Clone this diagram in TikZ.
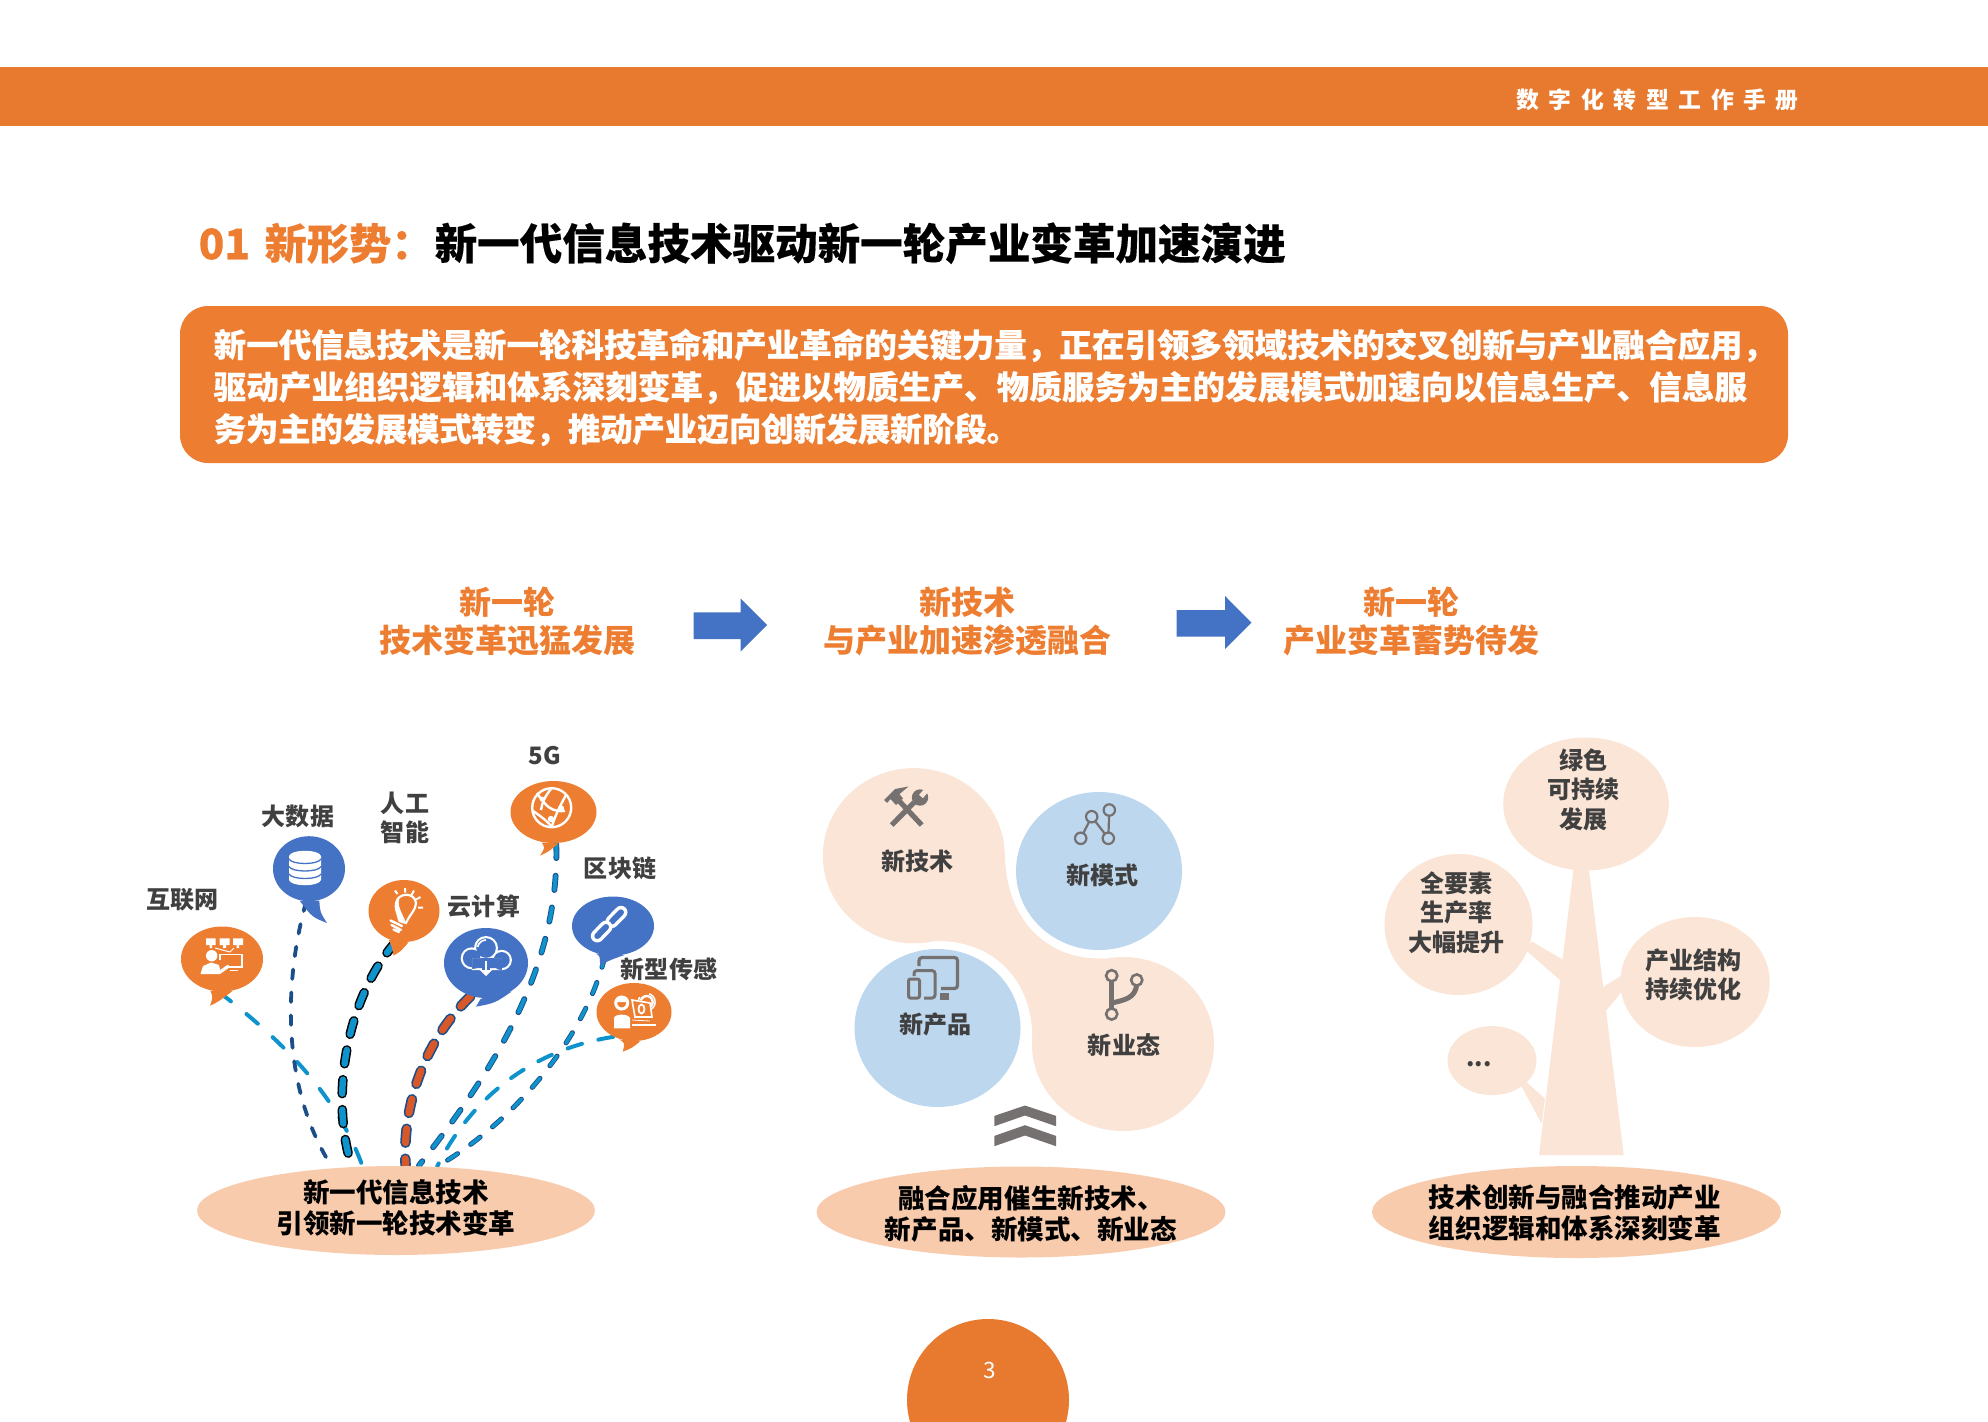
\documentclass[tikz,border=0pt]{standalone}
\usepackage{fontspec}
\setmainfont{Noto Sans CJK SC}
\usetikzlibrary{shapes.geometric,backgrounds}
\newcommand{\unit}{0.01cm}
\newcommand{\wcomma}{\char"FF0C\relax}
\newcommand{\wcolon}{\char"FF1A\relax}
\definecolor{barorange}{HTML}{E87A2F}
\definecolor{mainorange}{HTML}{ED7D31}
\definecolor{mainblue}{HTML}{4472C4}
\definecolor{softpeach}{HTML}{FBE5D6}
\definecolor{softblue}{HTML}{BDD7EE}
\definecolor{basepeach}{HTML}{F8CBAD}
\definecolor{darktext}{HTML}{404040}
\definecolor{icongray}{HTML}{767171}
\definecolor{linkcyan}{HTML}{0E93CC}
\definecolor{linknavy}{HTML}{1C4E8A}
\definecolor{linkred}{HTML}{D9582A}
\tikzset{
  bubble/.style n args={3}{ellipse,fill=#1,inner sep=0pt,minimum width=#2*\unit,minimum height=#3*\unit},
  blob/.style n args={3}{ellipse,fill=#1,inner sep=0pt,minimum width=#2*\unit,minimum height=#3*\unit},
  basetext/.style={inner sep=0pt,align=center,text=black,font=\fontsize{7.55}{8.8}\selectfont\bfseries},
  smalltext/.style={inner sep=0pt,align=center,text=darktext,font=\fontsize{6.83}{8.33}\selectfont\bfseries},
  headtext/.style={inner sep=0pt,align=center,text=mainorange,font=\fontsize{9.1}{10.8}\selectfont\bfseries},
  flatlink/.style n args={4}{draw=#1,line width=#2*\unit,line cap=round,dash pattern=on #3*\unit off #4*\unit},
  duallink/.style n args={5}{line cap=round,dash pattern=on #4*\unit off #5*\unit,preaction={draw=#1,line width=#3*\unit,line cap=round,dash pattern=on #4*\unit off #5*\unit},draw=#2,line width=0.68*#3*\unit}
}
\begin{document}
\begin{tikzpicture}[x=\unit,y=-\unit]
\useasboundingbox (0,0) rectangle (1988,1421);

\fill[barorange] (0,67) rectangle (1988,125.5);
\node[inner sep=0pt,anchor=east,text=white,font=\fontsize{6.5}{8}\selectfont\bfseries\addfontfeature{LetterSpace=42}] (runhead) at (1799.5,100) {数字化转型工作手册};

\node[inner sep=0pt,anchor=west,text=mainorange,font=\fontsize{12}{14}\selectfont\bfseries\addfontfeature{FakeBold=0.3}] (secnum) at (198,243.3) {01\hspace{1.4pt} 新形势\wcolon};
\node[inner sep=0pt,anchor=west,text=black,font=\fontsize{12.1}{14}\selectfont\bfseries\addfontfeature{FakeBold=0.3}] (sectitle) at (434,243.3) {新一代信息技术驱动新一轮产业变革加速演进};

\fill[mainorange,rounded corners=28*\unit] (180,306) rectangle (1788,463);
\node[inner sep=0pt,anchor=west,align=left,text=white,font=\fontsize{9.25}{11.95}\selectfont\bfseries\addfontfeature{FakeBold=0.3}] (introtext) at (213,387.4) {新一代信息技术是新一轮科技革命和产业革命的关键力量\wcomma 正在引领多领域技术的交叉创新与产业融合应用\wcomma\\{\addfontfeature{LetterSpace=0.3}驱动产业组织逻辑和体系深刻变革\wcomma 促进以物质生产、物质服务为主的发展模式加速向以信息生产、信息服}\\{\addfontfeature{LetterSpace=-1}务为主的发展模式转变\wcomma 推动产业迈向创新发展新阶段。}};

\node[headtext] (heada) at (507,621.3) {新一轮\\技术变革迅猛发展};
\node[headtext] (headb) at (967,621.3) {新技术\\与产业加速渗透融合};
\node[headtext] (headc) at (1411,621.3) {新一轮\\产业变革蓄势待发};
\fill[mainblue] (693.6,612.4) -- (740.5,612.4) -- (740.5,598.5) -- (767,625) -- (740.5,651.7) -- (740.5,639) -- (693.6,639) -- cycle;
\fill[mainblue] (1176.7,610) -- (1225,610) -- (1225,596) -- (1251.5,622.6) -- (1225,649) -- (1225,636.5) -- (1176.7,636.5) -- cycle;

\node[blob={basepeach}{398}{89}] (basea) at (396,1210.5) {};
\node[basetext] (baseatext) at (396,1208) {新一代信息技术\\引领新一轮技术变革};
\node[blob={basepeach}{409}{91}] (baseb) at (1021,1212) {};
\node[basetext] (basebtext) at (1031,1213.5) {融合应用催生新技术、\\新产品、新模式、新业态};
\node[blob={basepeach}{409}{92}] (basec) at (1576.5,1212) {};
\node[basetext] (basectext) at (1575,1213) {技术创新与融合推动产业\\组织逻辑和体系深刻变革};

\node[bubble={mainorange}{82}{65}] (hulian) at (222,959) {};
\fill[mainorange] (hulian.-110) .. controls (213,997) .. (210,1005.7) .. controls (218,1002) .. (hulian.-72);
\node[bubble={mainblue}{72}{65}] (dashuju) at (309,868.7) {};
\fill[mainblue] (dashuju.-106) .. controls (312,917) .. (327,923) .. controls (320,912) .. (dashuju.-72);
\node[bubble={mainorange}{71}{62}] (zhineng) at (404,911) {};
\fill[mainorange] (zhineng.-118) .. controls (392,947) .. (393.5,955.5) .. controls (400,952) .. (zhineng.-82);
\node[bubble={mainblue}{84}{70}] (yun) at (486,963) {};
\fill[mainblue] (yun.-97) .. controls (481,998) .. (476,1006.7) .. controls (495,1003) .. (yun.-48);
\node[bubble={mainorange}{86}{62}] (wuge) at (553.5,812) {};
\fill[mainorange] (wuge.-111) .. controls (545,848) .. (540,855.7) .. controls (548,852) .. (wuge.-81);
\node[bubble={mainblue}{82}{59}] (qukuai) at (613,926) {};
\fill[mainblue] (qukuai.-122) .. controls (600,956) .. (600,965.7) .. controls (610,960) .. (qukuai.-69);
\node[bubble={mainorange}{75}{58}] (chuangan) at (634,1012) {};
\fill[mainorange] (chuangan.-118) .. controls (625,1043) .. (622.7,1051.7) .. controls (632,1048) .. (chuangan.-78);

\node[smalltext] (huliantext) at (182.5,900) {互联网};
\node[smalltext] (dashujutext) at (298,816) {大数据};
\node[smalltext] (zhinengtext) at (405,817.5) {人工\\智能};
\node[smalltext] (wugetext) at (545,755.5) {5G};
\node[smalltext] (qukuaitext) at (620,868.5) {区块链};
\node[smalltext] (yuntext) at (484,906.5) {云计算};
\node[smalltext] (chuangantext) at (669,969) {新型传感};

\begin{scope}[on background layer]
\draw[flatlink={linkcyan}{4}{15}{20}] (hulian.-95) .. controls (275,1035) and (335,1090) .. (basea.127);
\draw[flatlink={linknavy}{3.8}{9.5}{13.5}] (dashuju.-95) .. controls (283,985) and (282,1090) .. (basea.146);
\draw[duallink={black}{linkcyan}{9.5}{14}{16}] (zhineng.-105) .. controls (345,1000) and (330,1100) .. (basea.135);
\draw[duallink={linknavy}{linkred}{10.5}{14}{16}] (yun.-115) .. controls (425,1040) and (402,1105) .. (basea.78);
\draw[duallink={linknavy}{linkcyan}{5.8}{14.5}{17.5}] (wuge.-85) .. controls (560,970) and (490,1075) .. (basea.63);
\draw[duallink={linknavy}{linkcyan}{5}{12}{16}] (qukuai.-105) .. controls (585,1040) and (510,1125) .. (basea.47);
\draw[flatlink={linkcyan}{4}{15}{17}] (chuangan.-130) .. controls (530,1050) and (470,1100) .. (basea.47);
\end{scope}

\fill[white] (206,938.3) rectangle (215.5,945) (219.5,938.3) rectangle (229.5,945) (233,938.3) rectangle (243,945);
\fill[white] (209.5,945) rectangle (212,948) (223,945) rectangle (226,948) (236.5,945) rectangle (239,948);
\draw[white,line width=1*\unit] (215,948) -- (230,952) (234,948) -- (230,952);
\draw[white,line width=1.8*\unit] (220,960) -- (220,954.5) -- (242,954.5) -- (242,967) -- (226,967);
\draw[white,line width=1*\unit] (230,970) -- (238,970);
\fill[white] (211.7,955.7) circle (5.7);
\fill[white] (200.5,974) -- (203,966) -- (211,962.5) -- (219,965) -- (220,970) -- (228,964.5) -- (230,967) -- (220,974) -- cycle;

\fill[white] (289,856) .. controls (291,849) and (319,849) .. (321,856) -- (321,880) .. controls (319,887) and (291,887) .. (289,880) -- cycle;
\draw[mainblue,line width=1.3*\unit] (289,859) .. controls (292,865) and (318,865) .. (321,859);
\draw[mainblue,line width=1.3*\unit] (289,866.5) .. controls (292,872.5) and (318,872.5) .. (321,866.5);
\draw[mainblue,line width=1.3*\unit] (289,874) .. controls (292,880) and (318,880) .. (321,874);

\draw[white,line width=2.2*\unit] (399.5,921) .. controls (397,912) and (395,908) .. (396,903) .. controls (398,892) and (415,892) .. (416,903) .. controls (416,910) and (410,914) .. (406,923) -- cycle;
\fill[white] (399.5,921) .. controls (396,908) and (393,904) .. (400,896) .. controls (396,906) and (402,912) .. (406,923) -- cycle;
\draw[white,line width=2.4*\unit,line cap=round] (390.5,920.5) -- (402,926) (391.5,925) -- (401,930) (393.5,929.5) -- (399,932);
\draw[white,line width=2*\unit] (395,890.5) -- (397.5,894) (405,888) -- (405,892.5) (414,890.5) -- (411.5,895) (420.5,897) -- (416,899.5) (423,907.5) -- (418,907.5);

\fill[white] (471.7,958.3) circle (11) (486,948) circle (12) (501.7,960) circle (10.2) (472,958) rectangle (502,970.2);
\fill[mainblue] (471.7,958.3) circle (8.8) (486,948) circle (9.8) (501.7,960) circle (8) (472,958) rectangle (502,968);
\fill[mainblue] (482,966) rectangle (490,972);
\draw[white,line width=1.6*\unit] (477.5,947) .. controls (479,941.5) and (483,940) .. (486,940);
\draw[white,line width=1.8*\unit] (486,961) -- (486,974);
\fill[white] (480,970) -- (492,970) -- (486,976) -- cycle;

\draw[white,line width=2.4*\unit] (551.7,807.7) circle (19.5);
\draw[white,line width=2.4*\unit] (537,793) .. controls (546,807) and (552,812) .. (565,811);
\draw[white,line width=2.4*\unit] (533,811) .. controls (542,817) and (548,822) .. (551,826);
\draw[white,line width=2.4*\unit] (551,789) .. controls (545,796) and (542,803) .. (541,810);
\draw[white,line width=2.4*\unit] (566,795) .. controls (560,806) and (555,816) .. (552,826);
\fill[white] (561,808.5) circle (3.2) (551,819) circle (3.2) (542,799) circle (2.4);

\draw[white,line width=13*\unit,line cap=round] (621,912.3) -- (612,921.5);
\draw[mainblue,line width=6*\unit,line cap=round] (621,912.3) -- (612,921.5);
\draw[white,line width=13*\unit,line cap=round] (597.3,936) -- (606,927);
\draw[mainblue,line width=6*\unit,line cap=round] (597.3,936) -- (606,927);

\draw[white,line width=3*\unit] (621.7,1003) circle (6);
\fill[white] (615,1002) .. controls (616,994) and (628,994) .. (629,1002) -- cycle;
\fill[white] (614,1028.3) -- (614,1018) .. controls (615,1013.5) and (628,1013.5) .. (630,1018) -- (630,1028.3) -- cycle;
\fill[white] (632,1023.5) rectangle (656,1025.5);
\draw[white,line width=1.5*\unit,dashed] (646.7,1002) circle (8.5);
\draw[white,line width=2.4*\unit] (646.7,1002) circle (6);
\fill[mainorange] (631,999) -- (650,1002) -- (653,1018) -- (634,1019) -- cycle;
\draw[white,line width=1.6*\unit] (632,1000) -- (650,1003) -- (652,1017) -- (635,1017) -- cycle;
\draw[white,line width=1.8*\unit] (641.5,1009) ellipse (3 and 4.5);
\draw[white,line width=0.8*\unit] (632,1020) -- (650,1021);

\fill[softpeach] (913.8,855.7) ellipse (91 and 87.6);
\fill[softpeach] (1123,1044) ellipse (91 and 87);
\fill[softpeach] (1005,857) .. controls (1006.7,922.8) and (1050,960.7) .. (1103.3,958.3) -- (1123,1044) -- (1032.3,1036.6) .. controls (1031.7,974.5) and (986.7,934.8) .. (923.3,941.7) -- (913.8,855.7) -- cycle;
\node[blob={softblue}{166}{158}] (moshi) at (1099,871) {};
\node[blob={softblue}{166}{158}] (chanpin) at (937.5,1028) {};
\node[smalltext] (jishutext) at (917.7,861.7) {新技术};
\node[smalltext] (moshitext) at (1102.7,874.8) {新模式};
\node[smalltext] (chanpintext) at (935.7,1024.4) {新产品};
\node[smalltext] (yetaitext) at (1124,1045) {新业态};

\draw[icongray,line width=5.2*\unit] (921.7,825) -- (896.7,798.3);
\fill[icongray] (884,800) -- (895,789) -- (908.5,786.5) -- (899.5,794) -- (903,798.5) -- (896,805) -- (890.5,799) -- (887,803) -- cycle;
\draw[icongray,line width=5.2*\unit] (891.7,825) -- (914,802.5);
\fill[icongray] (920,797.5) circle (8.2);
\draw[softpeach,line width=5*\unit] (921,796.5) -- (929,787);

\draw[icongray,line width=2.2*\unit] (1080.7,838.3) -- (1091.7,816.7) -- (1108.3,838.3) -- (1109.3,810);
\draw[icongray,fill=softblue,line width=2.2*\unit] (1080.7,838.3) circle (5.7) (1091.7,816.7) circle (5.7) (1108.3,838.3) circle (5.7) (1109.3,810) circle (5.7);

\draw[icongray,line width=3.2*\unit,rounded corners=3*\unit] (919,966) -- (919,957.5) -- (957.5,957.5) -- (957.5,988.5) -- (941,988.5);
\draw[icongray,line width=3*\unit,rounded corners=3*\unit] (914,976) -- (914,970.5) -- (935,970.5) -- (935,998) -- (924,998);
\fill[icongray] (940,993) rectangle (949,999.5);
\draw[icongray,line width=3*\unit,rounded corners=2*\unit] (908.5,979) rectangle (919.5,998);

\draw[icongray,line width=5*\unit] (1111.7,980) -- (1111.7,1010);
\draw[icongray,line width=5*\unit] (1111.7,1003) .. controls (1125,1000) and (1135,998) .. (1136.7,985);
\draw[icongray,fill=softpeach,line width=2.6*\unit] (1111.7,975.7) circle (5.6) (1136.7,980) circle (5.6) (1111.7,1014) circle (5.6);

\fill[icongray] (994.3,1115.9) -- (1025,1105.5) -- (1056,1115.9) -- (1056,1126.2) -- (1025,1115.5) -- (994.3,1126.2) -- cycle;
\fill[icongray] (994.3,1135.9) -- (1025,1125.2) -- (1056,1135.9) -- (1056,1146.2) -- (1025,1135.5) -- (994.3,1146.2) -- cycle;

\fill[softpeach] (1574,865) -- (1588.3,865) -- (1623.7,1155) -- (1539,1155) -- cycle;
\fill[softpeach] (1531.7,941.4) -- (1563.3,960) -- (1560.7,980.7) -- (1526,950.4) -- cycle;
\fill[softpeach] (1622,975.4) -- (1601.7,987.9) -- (1605.7,1011) -- (1622,991.4) -- cycle;
\fill[softpeach] (1526.7,1082.5) -- (1545,1098.6) -- (1541.7,1123.6) -- (1520.7,1085) -- cycle;
\node[blob={softpeach}{165.6}{133}] (lvse) at (1586,804) {};
\node[blob={softpeach}{148}{141}] (quanyaosu) at (1458.5,924.5) {};
\node[blob={softpeach}{149.4}{130}] (jiegou) at (1695,982) {};
\node[blob={softpeach}{89}{69}] (dengdeng) at (1492,1060.6) {};
\node[smalltext] (lvsetext) at (1583.5,789.6) {绿色\\可持续\\发展};
\node[smalltext] (quanyaosutext) at (1456.7,912.5) {全要素\\生产率\\大幅提升};
\node[smalltext] (jiegoutext) at (1693.5,975) {产业结构\\持续优化};
\node[smalltext] (dengdengtext) at (1479,1064) {...};

\node[circle,fill=barorange,inner sep=0pt,minimum size=162*\unit] (pageball) at (988,1400) {};
\node[inner sep=0pt,text=white,font=\fontsize{6.4}{8}\selectfont] (pagenum) at (990,1370) {3};
\end{tikzpicture}
\end{document}
